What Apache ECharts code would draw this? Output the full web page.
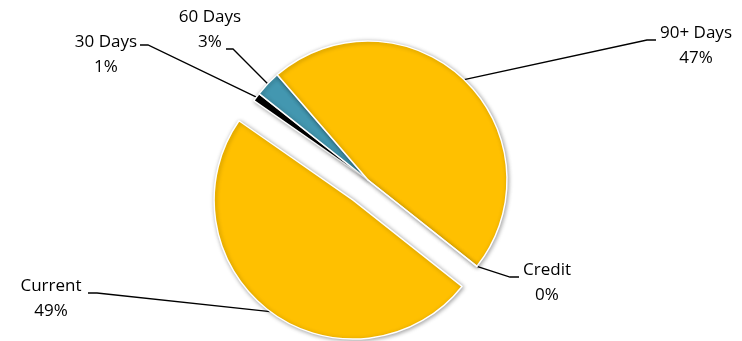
<!DOCTYPE html>
<html>
<head>
<meta charset="utf-8">
<script src="https://cdn.jsdelivr.net/npm/echarts@6/dist/echarts.min.js"></script>
<style>
html,body{margin:0;padding:0;background:#fff;}
#chart{width:742px;height:341px;}
</style>
</head>
<body>
<div id="chart"></div>
<script>
const categories = ['Current', '30 Days', '60 Days', '90+ Days', 'Credit'];
const percentValues = [49, 1, 3, 47, 0];
const sliceColors = ['#FFC000', '#000000', '#4397B0', '#FFC000', '#FFC000'];
const explodedCategory = 'Current';

const PIE_CENTER = [368, 180];
const PIE_RADIUS = 139;
const EXPLODE = 25;
const START_ANGLE = -38.4;

// label block centre and leader-line elbow (label side) per category
const labelPlacement = {
  'Current':  { x: 51,  y: 299, elbow: [[88, 293], [97, 293]] },
  '30 Days':  { x: 106, y: 55,  elbow: [[140, 45], [148, 45]] },
  '60 Days':  { x: 210, y: 30,  elbow: [[226, 49], [233, 49]] },
  '90+ Days': { x: 696, y: 46,  elbow: [[656, 40], [647, 40]] },
  'Credit':   { x: 547, y: 283, elbow: [[519, 277], [510, 277]] }
};

const labelStyle = {
  formatter: function (p) { return p.name + '\n' + p.value + '%'; },
  fontFamily: 'Open Sans',
  fontSize: 17,
  lineHeight: 25,
  color: '#000000',
  align: 'center'
};

function makeLayout(shiftExploded) {
  return function (params) {
    const name = categories[params.dataIndex];
    const pl = labelPlacement[name];
    const res = { x: pl.x, y: pl.y, align: 'center', verticalAlign: 'middle' };
    if (params.labelLinePoints && params.labelLinePoints.length) {
      let p0 = params.labelLinePoints[0].slice();
      if (shiftExploded) {
        const dx = p0[0] - PIE_CENTER[0], dy = p0[1] - PIE_CENTER[1];
        const len = Math.sqrt(dx * dx + dy * dy) || 1;
        p0 = [p0[0] + EXPLODE * dx / len, p0[1] + EXPLODE * dy / len];
      }
      res.labelLinePoints = [p0, pl.elbow[1], pl.elbow[0]];
    }
    return res;
  };
}

const chart = echarts.init(document.getElementById('chart'), null, {renderer: 'canvas'});

// main pie: all slices, exploded one offset via selection (its label drawn by overlay)
const mainData = categories.map((c, i) => {
  const isEx = c === explodedCategory;
  const item = {
    name: c,
    value: percentValues[i],
    selected: isEx,
    itemStyle: { color: sliceColors[i] },
    select: { itemStyle: { color: sliceColors[i] }, label: { show: !isEx }, labelLine: { show: !isEx } }
  };
  if (isEx) {
    item.label = { show: false };
    item.labelLine = { show: false };
  }
  return item;
});

// overlay pie: invisible slices, only carries the exploded slice's label
const overlayData = categories.map((c, i) => ({
  name: c,
  value: percentValues[i],
  itemStyle: { color: 'rgba(0,0,0,0)', borderWidth: 0, shadowBlur: 0 },
  label: { show: c === explodedCategory },
  labelLine: { show: c === explodedCategory }
}));

chart.setOption({
  animation: false,
  backgroundColor: '#ffffff',
  series: [{
    type: 'pie',
    center: PIE_CENTER,
    radius: PIE_RADIUS,
    startAngle: START_ANGLE,
    clockwise: true,
    avoidLabelOverlap: false,
    selectedMode: 'single',
    selectedOffset: EXPLODE,
    data: mainData,
    itemStyle: {
      borderColor: '#ffffff',
      borderWidth: 1.5,
      shadowBlur: 4,
      shadowColor: 'rgba(0,0,0,0.35)',
      shadowOffsetX: 1,
      shadowOffsetY: 1
    },
    emphasis: { disabled: true },
    label: Object.assign({ show: true }, labelStyle),
    labelLine: { show: true, lineStyle: { color: '#000000', width: 1.3 } },
    labelLayout: makeLayout(false)
  }, {
    type: 'pie',
    silent: true,
    center: PIE_CENTER,
    radius: PIE_RADIUS,
    startAngle: START_ANGLE,
    clockwise: true,
    avoidLabelOverlap: false,
    selectedMode: false,
    data: overlayData,
    emphasis: { disabled: true },
    label: Object.assign({}, labelStyle),
    labelLine: { lineStyle: { color: '#000000', width: 1.3 } },
    labelLayout: makeLayout(true)
  }]
});
</script>
</body>
</html>
